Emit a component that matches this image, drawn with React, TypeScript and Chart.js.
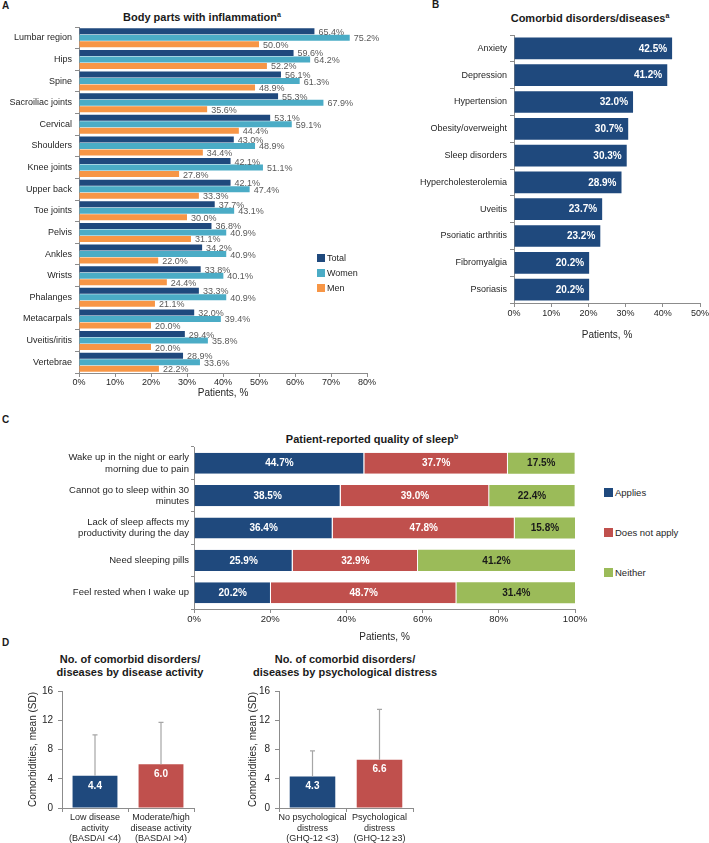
import React, { useEffect, useRef } from 'react';
import { Chart, registerables } from 'chart.js';

Chart.register(...registerables);

const FONT = "'Liberation Sans', Arial, Helvetica, sans-serif";
const NAVY = '#1F497D';
const AQUA = '#4BACC6';
const ORANGE = '#F79646';
const RED = '#C0504D';
const GREEN = '#9BBB59';
const AXIS = '#8C8C8C';
const TEXT = '#262626';

Chart.defaults.font.family = FONT;
Chart.defaults.color = TEXT;

// ---------- Panel A data ----------
const bodyParts = [
  'Lumbar region', 'Hips', 'Spine', 'Sacroiliac joints', 'Cervical', 'Shoulders',
  'Knee joints', 'Upper back', 'Toe joints', 'Pelvis', 'Ankles', 'Wrists',
  'Phalanges', 'Metacarpals', 'Uveitis/iritis', 'Vertebrae',
];
const bodyTotal = [65.4, 59.6, 56.1, 55.3, 53.1, 43.0, 42.1, 42.1, 37.7, 36.8, 34.2, 33.8, 33.3, 32.0, 29.4, 28.9];
const bodyWomen = [75.2, 64.2, 61.3, 67.9, 59.1, 48.9, 51.1, 47.4, 43.1, 40.9, 40.9, 40.1, 40.9, 39.4, 35.8, 33.6];
const bodyMen = [50.0, 52.2, 48.9, 35.6, 44.4, 34.4, 27.8, 33.3, 30.0, 31.1, 22.0, 24.4, 21.1, 20.0, 20.0, 22.2];
const seriesA = ['Total', 'Women', 'Men'];
const axisMaxA = 80;
const axisStepA = 10;

// ---------- Panel B data ----------
const comorbidities = [
  'Anxiety', 'Depression', 'Hypertension', 'Obesity/overweight', 'Sleep disorders',
  'Hypercholesterolemia', 'Uveitis', 'Psoriatic arthritis', 'Fibromyalgia', 'Psoriasis',
];
const comorbidValues = [42.5, 41.2, 32.0, 30.7, 30.3, 28.9, 23.7, 23.2, 20.2, 20.2];
const axisMaxB = 50;
const axisStepB = 10;

// ---------- Panel C data ----------
const sleepItems = [
  ['Wake up in the night or early', 'morning due to pain'],
  ['Cannot go to sleep within 30', 'minutes'],
  ['Lack of sleep affects my', 'productivity during the day'],
  'Need sleeping pills',
  'Feel rested when I wake up',
];
const sleepApplies = [44.7, 38.5, 36.4, 25.9, 20.2];
const sleepNotApply = [37.7, 39.0, 47.8, 32.9, 48.7];
const sleepNeither = [17.5, 22.4, 15.8, 41.2, 31.4];
const seriesC = ['Applies', 'Does not apply', 'Neither'];
const axisMaxC = 100;
const axisStepC = 20;

// ---------- Panel D data ----------
const activityGroups = [
  ['Low disease', 'activity', '(BASDAI <4)'],
  ['Moderate/high', 'disease activity', '(BASDAI >4)'],
];
const activityMeans = [4.4, 6.0];
const activitySD = [5.6, 5.7];
const distressGroups = [
  ['No psychological', 'distress', '(GHQ-12 <3)'],
  ['Psychological', 'distress', '(GHQ-12 \u22653)'],
];
const distressMeans = [4.3, 6.6];
const distressSD = [3.5, 6.9];
const axisMaxD = 16;
const axisStepD = 4;

// ---------- helpers ----------
const zeroPad = (s: any) => {
  s.paddingLeft = 0; s.paddingRight = 0; s.paddingTop = 0; s.paddingBottom = 0;
};
const fitX = (h: number) => (s: any) => { s.height = h; zeroPad(s); };
const fitY = (w: number) => (s: any) => { s.width = w; zeroPad(s); };

const baseOptions = {
  animation: false as const,
  responsive: false,
  plugins: { legend: { display: false }, tooltip: { enabled: false }, title: { display: false } },
};

const pct = (v: any) => v + '%';

const labelsA = {
  id: 'labelsA',
  afterDatasetsDraw(chart: any) {
    const ctx = chart.ctx;
    ctx.save();
    ctx.font = `9px ${FONT}`;
    ctx.fillStyle = '#595959';
    ctx.textAlign = 'left';
    ctx.textBaseline = 'middle';
    chart.data.datasets.forEach((ds: any, di: number) => {
      chart.getDatasetMeta(di).data.forEach((bar: any, i: number) => {
        ctx.fillText(ds.data[i].toFixed(1) + '%', bar.x + 4, bar.y + 1);
      });
    });
    ctx.restore();
  },
};

const labelsB = {
  id: 'labelsB',
  afterDatasetsDraw(chart: any) {
    const ctx = chart.ctx;
    ctx.save();
    ctx.font = `bold 10px ${FONT}`;
    ctx.fillStyle = '#FFFFFF';
    ctx.textAlign = 'right';
    ctx.textBaseline = 'middle';
    const ds = chart.data.datasets[0];
    chart.getDatasetMeta(0).data.forEach((bar: any, i: number) => {
      ctx.fillText(ds.data[i].toFixed(1) + '%', bar.x - 5, bar.y + 0.5);
    });
    ctx.restore();
  },
};

const labelsC = {
  id: 'labelsC',
  afterDatasetsDraw(chart: any) {
    const ctx = chart.ctx;
    ctx.save();
    ctx.font = `bold 10px ${FONT}`;
    ctx.textAlign = 'center';
    ctx.textBaseline = 'middle';
    const colors = ['#FFFFFF', '#FFFFFF', '#1A1A1A'];
    chart.data.datasets.forEach((ds: any, di: number) => {
      ctx.fillStyle = colors[di];
      chart.getDatasetMeta(di).data.forEach((bar: any, i: number) => {
        const p = bar.getCenterPoint();
        ctx.fillText(ds.data[i].toFixed(1) + '%', p.x, p.y + 0.5);
      });
    });
    ctx.restore();
  },
};

const makeDPlugin = (sd: number[]) => ({
  id: 'errD',
  afterDatasetsDraw(chart: any) {
    const ctx = chart.ctx;
    const yScale = chart.scales.y;
    const ds = chart.data.datasets[0];
    ctx.save();
    ctx.strokeStyle = '#A6A6A6';
    ctx.lineWidth = 1.2;
    chart.getDatasetMeta(0).data.forEach((bar: any, i: number) => {
      const top = yScale.getPixelForValue(ds.data[i] + sd[i]);
      ctx.beginPath();
      ctx.moveTo(bar.x, bar.y);
      ctx.lineTo(bar.x, top);
      ctx.moveTo(bar.x - 2.5, top);
      ctx.lineTo(bar.x + 2.5, top);
      ctx.stroke();
    });
    ctx.font = `bold 10px ${FONT}`;
    ctx.fillStyle = '#FFFFFF';
    ctx.textAlign = 'center';
    ctx.textBaseline = 'middle';
    chart.getDatasetMeta(0).data.forEach((bar: any, i: number) => {
      ctx.fillText(ds.data[i].toFixed(1), bar.x, bar.y + 10);
    });
    ctx.restore();
  },
});

const configA = () => ({
  type: 'bar',
  data: {
    labels: bodyParts,
    datasets: [
      { label: seriesA[0], data: bodyTotal, backgroundColor: NAVY },
      { label: seriesA[1], data: bodyWomen, backgroundColor: AQUA },
      { label: seriesA[2], data: bodyMen, backgroundColor: ORANGE },
    ],
  },
  options: {
    ...baseOptions,
    indexAxis: 'y',
    layout: { padding: { top: 7, right: 13, left: 0, bottom: 0 } },
    datasets: { bar: { categoryPercentage: 0.9, barPercentage: 0.93 } },
    scales: {
      x: {
        min: 0, max: axisMaxA,
        ticks: { stepSize: axisStepA, callback: pct, font: { size: 9 }, padding: 0, maxRotation: 0, color: TEXT },
        grid: { drawOnChartArea: false, tickLength: 4, color: AXIS },
        border: { color: AXIS },
        title: { display: true, text: 'Patients, %', font: { size: 10 }, padding: 0, color: TEXT },
        afterFit: fitX(26),
      },
      y: {
        ticks: { font: { size: 9 }, padding: 3, autoSkip: false, color: TEXT },
        grid: { offset: true, drawOnChartArea: false, tickLength: 4, color: AXIS },
        border: { color: AXIS },
        afterFit: fitY(79),
      },
    },
  },
  plugins: [labelsA],
});

const configB = () => ({
  type: 'bar',
  data: {
    labels: comorbidities,
    datasets: [{ label: 'Patients', data: comorbidValues, backgroundColor: NAVY }],
  },
  options: {
    ...baseOptions,
    indexAxis: 'y',
    layout: { padding: { top: 7, right: 9, left: 0, bottom: 0 } },
    datasets: { bar: { categoryPercentage: 0.81, barPercentage: 1 } },
    scales: {
      x: {
        min: 0, max: axisMaxB,
        ticks: { stepSize: axisStepB, callback: pct, font: { size: 9 }, padding: 1, maxRotation: 0, color: TEXT },
        grid: { drawOnChartArea: false, tickLength: 4, color: AXIS },
        border: { color: AXIS },
        title: { display: true, text: 'Patients, %', font: { size: 10 }, padding: 0, color: TEXT },
        afterFit: fitX(38),
      },
      y: {
        ticks: { font: { size: 9 }, padding: 3, autoSkip: false, color: TEXT },
        grid: { offset: true, drawOnChartArea: false, tickLength: 4, color: AXIS },
        border: { color: AXIS },
        afterFit: fitY(114),
      },
    },
  },
  plugins: [labelsB],
});

const configC = () => ({
  type: 'bar',
  data: {
    labels: sleepItems,
    datasets: [
      { label: seriesC[0], data: sleepApplies, backgroundColor: NAVY, borderColor: 'rgba(255,255,255,0.85)', borderWidth: { right: 1, left: 0, top: 0, bottom: 0 } },
      { label: seriesC[1], data: sleepNotApply, backgroundColor: RED, borderColor: 'rgba(255,255,255,0.85)', borderWidth: { right: 1, left: 0, top: 0, bottom: 0 } },
      { label: seriesC[2], data: sleepNeither, backgroundColor: GREEN },
    ],
  },
  options: {
    ...baseOptions,
    indexAxis: 'y',
    layout: { padding: { top: 7, right: 15, left: 0, bottom: 0 } },
    datasets: { bar: { categoryPercentage: 0.65, barPercentage: 1 } },
    scales: {
      x: {
        stacked: true, min: 0, max: axisMaxC,
        ticks: { stepSize: axisStepC, callback: pct, font: { size: 9.5 }, padding: 1, maxRotation: 0, color: TEXT },
        grid: { drawOnChartArea: false, tickLength: 4, color: AXIS },
        border: { color: AXIS },
        title: { display: true, text: 'Patients, %', font: { size: 10 }, padding: 0, color: TEXT },
        afterFit: fitX(34),
      },
      y: {
        stacked: true,
        ticks: { font: { size: 9.5 }, padding: 2, autoSkip: false, color: TEXT },
        grid: { offset: true, drawOnChartArea: false, tickLength: 3, color: AXIS },
        border: { color: AXIS },
        afterFit: fitY(194),
      },
    },
  },
  plugins: [labelsC],
});

const configD = (labels: any[], means: number[], sd: number[], yW: number) => ({
  type: 'bar',
  data: {
    labels,
    datasets: [{ label: 'Mean', data: means, backgroundColor: [NAVY, RED] }],
  },
  options: {
    ...baseOptions,
    layout: { padding: { top: 6, right: 4, left: 0, bottom: 0 } },
    datasets: { bar: { categoryPercentage: 1, barPercentage: 0.68 } },
    scales: {
      x: {
        ticks: { font: { size: 9 }, padding: 0, maxRotation: 0, autoSkip: false, color: TEXT },
        grid: { offset: true, drawOnChartArea: false, tickLength: 4, color: AXIS },
        border: { color: AXIS },
        afterFit: fitX(35),
      },
      y: {
        min: 0, max: axisMaxD,
        ticks: { stepSize: axisStepD, font: { size: 10 }, padding: 5, color: TEXT },
        grid: { drawOnChartArea: false, tickLength: 4, color: AXIS },
        border: { color: AXIS },
        title: { display: true, text: 'Comorbidities, mean (SD)', font: { size: 10 }, padding: { top: 27, bottom: 0 }, color: TEXT },
        afterFit: fitY(yW),
      },
    },
  },
  plugins: [makeDPlugin(sd)],
});

function ChartCanvas({ x, y, w, h, make }: { x: number; y: number; w: number; h: number; make: () => any }) {
  const ref = useRef<HTMLCanvasElement>(null);
  useEffect(() => {
    const chart = new Chart(ref.current as HTMLCanvasElement, make());
    return () => chart.destroy();
  }, []);
  return (
    <canvas
      ref={ref}
      width={w}
      height={h}
      style={{ position: 'absolute', left: x, top: y, width: w, height: h }}
    />
  );
}

function Text({ x, y, w, children, size = 11, bold = true, align = 'center', lh = 13 }: any) {
  return (
    <div
      style={{
        position: 'absolute', left: x, top: y, width: w, textAlign: align,
        fontFamily: FONT, fontSize: size, fontWeight: bold ? 'bold' : 'normal',
        lineHeight: lh + 'px', color: '#1A1A1A', whiteSpace: 'nowrap',
      }}
    >
      {children}
    </div>
  );
}

const Sup = ({ c }: { c: string }) => (
  <span style={{ fontSize: 7, verticalAlign: 'top', lineHeight: '9px', position: 'relative', top: -1 }}>{c}</span>
);

function Legend({ x, y, gap, size, fontSize, items }: any) {
  return (
    <>
      {items.map((it: any, i: number) => (
        <div
          key={it.label}
          style={{
            position: 'absolute', left: x, top: y + i * gap, height: size, display: 'flex', alignItems: 'center',
            fontFamily: FONT, fontSize, color: TEXT, whiteSpace: 'nowrap', lineHeight: size + 'px',
          }}
        >
          <span style={{ display: 'inline-block', width: size, height: size, background: it.color, marginRight: 2 }} />
          {it.label}
        </div>
      ))}
    </>
  );
}

export default function App() {
  return (
    <div style={{ position: 'absolute', left: 0, top: 0, width: 709, height: 843, background: '#fff', overflow: 'hidden' }}>
      {/* Panel letters */}
      <Text x={2} y={0} w={20} size={10} lh={12} align="left">A</Text>
      <Text x={432} y={-1} w={20} size={10} lh={12} align="left">B</Text>
      <Text x={2} y={414} w={20} size={10} lh={12} align="left">C</Text>
      <Text x={2} y={637} w={20} size={10} lh={12} align="left">D</Text>

      {/* Titles */}
      <Text x={52} y={10.5} w={300}>Body parts with inflammation<Sup c="a" /></Text>
      <Text x={490} y={11.5} w={200}>Comorbid disorders/diseases<Sup c="a" /></Text>
      <Text x={222} y={432.5} w={300}>Patient-reported quality of sleep<Sup c="b" /></Text>
      <Text x={30} y={652.5} w={200}>No. of comorbid disorders/<br />diseases by disease activity</Text>
      <Text x={245} y={652.5} w={200}>No. of comorbid disorders/<br />diseases by psychological distress</Text>

      {/* Charts */}
      <ChartCanvas x={0} y={20} w={380} h={379} make={configA} />
      <ChartCanvas x={400} y={28} w={309} h={313} make={configB} />
      <ChartCanvas x={0} y={440} w={590} h={203} make={configC} />
      <ChartCanvas x={0} y={685} w={198} h={158} make={() => configD(activityGroups, activityMeans, activitySD, 62)} />
      <ChartCanvas x={220} y={685} w={197} h={158} make={() => configD(distressGroups, distressMeans, distressSD, 59)} />

      {/* Legends */}
      <Legend
        x={317} y={254} gap={15} size={8} fontSize={9}
        items={[{ label: seriesA[0], color: NAVY }, { label: seriesA[1], color: AQUA }, { label: seriesA[2], color: ORANGE }]}
      />
      <Legend
        x={604} y={488} gap={40} size={9} fontSize={9.5}
        items={[{ label: seriesC[0], color: NAVY }, { label: seriesC[1], color: RED }, { label: seriesC[2], color: GREEN }]}
      />
    </div>
  );
}
